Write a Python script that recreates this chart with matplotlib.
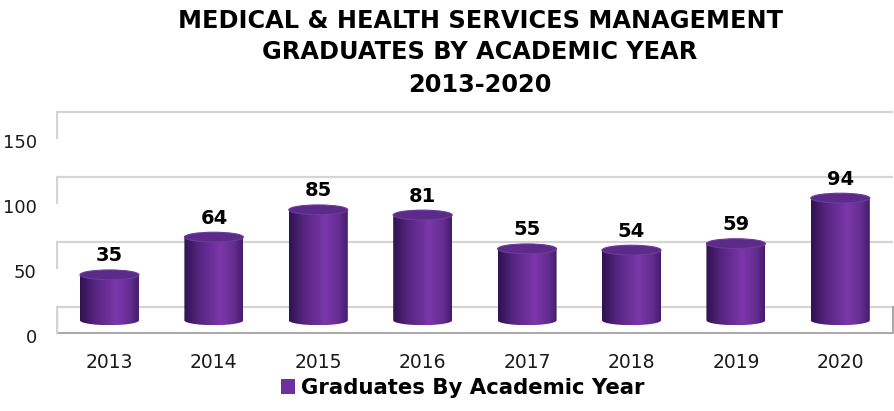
import numpy as np
import matplotlib.pyplot as plt
from matplotlib.patches import Ellipse, PathPatch, Patch
from matplotlib.path import Path
from matplotlib.colors import LinearSegmentedColormap
import matplotlib.transforms as mtransforms

# ── DATA ────────────────────────────────────────────────────────────────────
years = ['2013', '2014', '2015', '2016', '2017', '2018', '2019', '2020']
graduates = [35, 64, 85, 81, 55, 54, 59, 94]
y_ticks = [0, 50, 100, 150]
title_lines = ['MEDICAL & HEALTH SERVICES MANAGEMENT',
               'GRADUATES BY ACADEMIC YEAR',
               '2013-2020']
series_name = 'Graduates By Academic Year'

# ── STYLE ───────────────────────────────────────────────────────────────────
FONT = 'DejaVu Sans'
PURPLE = '#7030a0'
GRID = '#d4d4d4'
FLOOR_EDGE = '#a8a8a8'
DEPTH = 20.0        # depth of the 3-D box, in value units
BAR_W = 0.565
CAP_H = 7.5         # ellipse height, value units

body_cmap = LinearSegmentedColormap.from_list(
    'cyl', [(0.0, '#2f1250'), (0.25, '#55247f'), (0.62, '#7b37aa'),
            (0.85, '#642c90'), (1.0, '#451c6c')])

fig = plt.figure(figsize=(8.94, 4.11), dpi=100)
ax = fig.add_axes([0.0629, 0.1574, 0.9366, 0.601])
for s in ax.spines.values():
    s.set_visible(False)

n = len(years)
x0, x1 = -0.5, n - 0.5

# back wall gridlines + left wall segments
for v in y_ticks:
    ax.plot([x0, x1], [v + DEPTH, v + DEPTH], color=GRID, lw=1.6, zorder=1,
            solid_capstyle='butt')
    ax.plot([x0, x0], [v, v + DEPTH], color=GRID, lw=1.6, zorder=1)

# floor
ax.plot([x0, x1, x1], [0, 0, DEPTH], color=FLOOR_EDGE, lw=1.4, zorder=1)
ax.plot([x0, x0], [0, DEPTH], color=GRID, lw=1.6, zorder=1)

# cylinders
grad = np.linspace(0, 1, 256).reshape(1, -1)
base = DEPTH / 2
t = np.linspace(np.pi, 2 * np.pi, 40)
for i, v in enumerate(graduates):
    xl, xr = i - BAR_W / 2, i + BAR_W / 2
    top = base + v
    arc_x = i + BAR_W / 2 * np.cos(t)
    arc_y = base + CAP_H / 2 * np.sin(t)
    verts = [(xl, top)] + list(zip(arc_x, arc_y)) + [(xr, top), (xl, top)]
    clip = PathPatch(Path(verts), transform=ax.transData, facecolor='none',
                     edgecolor='none')
    ax.add_patch(clip)
    im = ax.imshow(grad, cmap=body_cmap, aspect='auto', zorder=3,
                   extent=(xl, xr, base - CAP_H / 2, top), interpolation='bilinear')
    im.set_clip_path(clip)
    ax.add_patch(Ellipse((i, top), BAR_W, CAP_H, facecolor='#5c2a89',
                         edgecolor='#6e3a9c', lw=0.8, zorder=4))
    ax.text(i, top + 14.5, str(v), ha='center', va='center', fontsize=14,
            fontweight='bold', family=FONT, color='black', zorder=5)

ax.set_xlim(-0.51, 7.51)
ax.set_ylim(-10, 180)

ax.set_xticks(range(n))
ax.set_xticklabels(years, fontsize=13.5, family=FONT)
ax.set_yticks(y_ticks)
ax.set_yticklabels([str(v) for v in y_ticks], fontsize=13, family=FONT)
ax.tick_params(axis='both', length=0, colors='#1a1a1a')
ax.tick_params(axis='x', pad=5)
ax.tick_params(axis='y', pad=14)
shift = mtransforms.ScaledTranslation(0, -3 / 100, fig.dpi_scale_trans)
for lab in ax.get_yticklabels():
    lab.set_transform(lab.get_transform() + shift)

# title
for line, yy in zip(title_lines, [0.949, 0.873, 0.793]):
    fig.text(0.537, yy, line, ha='center', va='center', fontsize=17.3,
             fontweight='bold', family=FONT)

# legend
handle = Patch(facecolor=PURPLE, edgecolor='none', label=series_name)
fig.legend(handles=[handle], loc='center', bbox_to_anchor=(0.518, 0.056),
           frameon=False, handlelength=0.65, handleheight=0.65,
           handletextpad=0.3, prop={'family': FONT, 'weight': 'bold', 'size': 15.3})

fig.savefig('out.png', dpi=100)
